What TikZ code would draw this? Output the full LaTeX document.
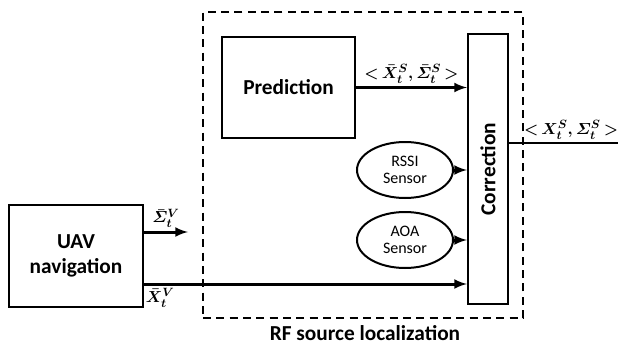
\documentclass[tikz,border=0pt]{standalone}
\usepackage{amsmath}
\usepackage[no-math]{fontspec}
\setmainfont{Carlito}
\usetikzlibrary{arrows,shapes.geometric}

\tikzset{
  block/.style={draw, rectangle, line width=1.5pt, align=center,
    font=\fontsize{16}{19}\selectfont\bfseries},
  sensor/.style={draw, ellipse, line width=1.5pt, inner sep=0pt,
    minimum width=72pt, minimum height=42pt, align=center,
    font=\fontsize{12}{13}\selectfont},
  flow/.style={arrows={-latex}, line width=2.25pt},
  sym/.style={font=\fontsize{13}{15}\selectfont\boldmath, inner sep=2pt}
}
% bracket pair around a state estimate
\newcommand{\est}[2]{{<}\,#1,#2\,{>}}

\begin{document}
\begin{tikzpicture}[x=0.75pt,y=-0.75pt]
\useasboundingbox (0,0) rectangle (618,347);

% localization block
\node[draw, dashed, dash pattern=on 6pt off 4pt, line width=1.5pt,
  minimum width=240pt, minimum height=229.5pt] at (363,165) (rf) {};
\node[font=\fontsize{16}{19}\selectfont\bfseries] at (365,333) (rflabel)
  {RF source localization};

\node[block, minimum width=100.5pt, minimum height=76.5pt] at (76,256) (uav)
  {UAV\\navigation};
\node[block, minimum width=99.75pt, minimum height=75.75pt] at (288.5,87.5)
  (pred) {Prediction};
\node[block, minimum width=30pt, minimum height=202.5pt] at (488,169) (corr) {};
\node[rotate=90, font=\fontsize{16}{19}\selectfont\bfseries] at (corr.center)
  (corrlabel) {Correction};
\node[sensor] at (405,170) (rssi) {RSSI\\Sensor};
\node[sensor] at (405,240) (aoa) {AOA\\Sensor};

\coordinate (sigend) at (188,232);
\coordinate (outend) at (618,143);

\draw[flow] (pred.east) to node[above, sym]
  {$\est{\bar{X}^{S}_{t}}{\bar{\varSigma}^{S}_{t}}$} (corr.west |- pred.east);
\draw[flow] (rssi.east) to (corr.west |- rssi.east);
\draw[flow] (aoa.east) to (corr.west |- aoa.east);
\draw[flow] (uav.east |- sigend) to node[above, sym]
  {$\bar{\varSigma}^{V}_{t}$} (sigend);
\draw[flow] (uav.east |- 0,284) to node[pos=0.05, below, sym]
  {$\bar{X}^{V}_{t}$} (corr.west |- 0,284);
\draw[line width=1.5pt] (corr.east |- outend) to node[pos=0.57, above, sym]
  {$\est{X^{S}_{t}}{\varSigma^{S}_{t}}$} (outend);
\end{tikzpicture}
\end{document}
